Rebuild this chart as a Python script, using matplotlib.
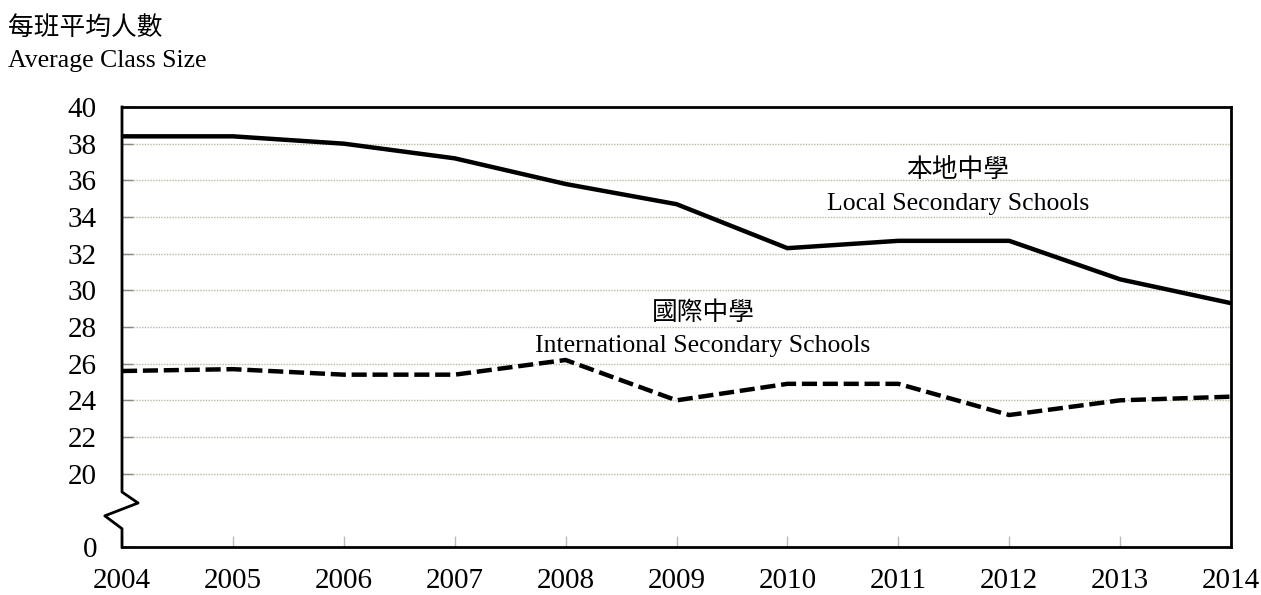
import matplotlib.pyplot as plt
from matplotlib.lines import Line2D

years = [2004, 2005, 2006, 2007, 2008, 2009, 2010, 2011, 2012, 2013, 2014]
local_size = [38.4, 38.4, 38.0, 37.2, 35.8, 34.7, 32.3, 32.7, 32.7, 30.6, 29.3]
intl_size = [25.6, 25.7, 25.4, 25.4, 26.2, 24.0, 24.9, 24.9, 23.2, 24.0, 24.2]
ytick_values = [20, 22, 24, 26, 28, 30, 32, 34, 36, 38, 40]

serif = ["Liberation Serif", "Noto Sans CJK TC"]
cjk = ["Noto Sans CJK TC", "DejaVu Sans"]

W, H = 1261, 595
# the axis is broken: 0 sits at 16 on the drawn scale
zero_pos = 16

fig = plt.figure(figsize=(W / 100, H / 100), dpi=100)
ax = fig.add_axes([122 / W, 1 - 547 / H, (1231 - 122) / W, (547 - 107) / H])

ax.plot(years, local_size, color="black", lw=3.2, solid_joinstyle="round")
ax.plot(years, intl_size, color="black", lw=3.2, dashes=(3.4, 1.3))

ax.set_xlim(years[0], years[-1])
ax.set_ylim(zero_pos, 40)

ax.set_yticks([zero_pos] + ytick_values)
ax.set_yticklabels(["0"] + [str(v) for v in ytick_values], fontfamily=serif, fontsize=21)
ax.set_xticks(years)
ax.set_xticklabels([str(y) for y in years], fontfamily=serif, fontsize=21)
ax.tick_params(axis="y", direction="in", length=8, width=1, color="#888888", pad=18)
ax.tick_params(axis="x", direction="in", length=8, width=1, color="#bbbbbb", pad=15)

for v in ytick_values[:-1]:
    ax.axhline(v, color="#b8b8a0", lw=1, ls=(0, (1, 1)), zorder=0)

for side in ["top", "right", "bottom"]:
    ax.spines[side].set_linewidth(2)
ax.spines["left"].set_visible(False)

# left spine with break zigzag
xs = [0, 0, 0.0145, -0.0155, 0, 0]
ys = [40, 19.0, 18.4, 17.7, 17.0, zero_pos]
ax.add_line(Line2D(xs, ys, transform=ax.get_yaxis_transform(), color="black", lw=2,
                   clip_on=False))


def px(x, y):
    return x / W, 1 - y / H


fig.text(*px(958, 170), "本地中學", fontfamily=cjk, fontsize=18.5, fontweight="light",
         ha="center", va="center")
fig.text(*px(958, 204), "Local Secondary Schools", fontfamily=serif, fontsize=18.5,
         ha="center", va="center")
fig.text(*px(703, 313), "國際中學", fontfamily=cjk, fontsize=18.5, fontweight="light",
         ha="center", va="center")
fig.text(*px(703, 346), "International Secondary Schools", fontfamily=serif, fontsize=18.5,
         ha="center", va="center")

fig.text(*px(8, 28), "每班平均人數", fontfamily=cjk, fontsize=18.5, fontweight="light",
         ha="left", va="center")
fig.text(*px(8, 61), "Average Class Size", fontfamily=serif, fontsize=18.5,
         ha="left", va="center")

fig.savefig("out.png", dpi=100)
